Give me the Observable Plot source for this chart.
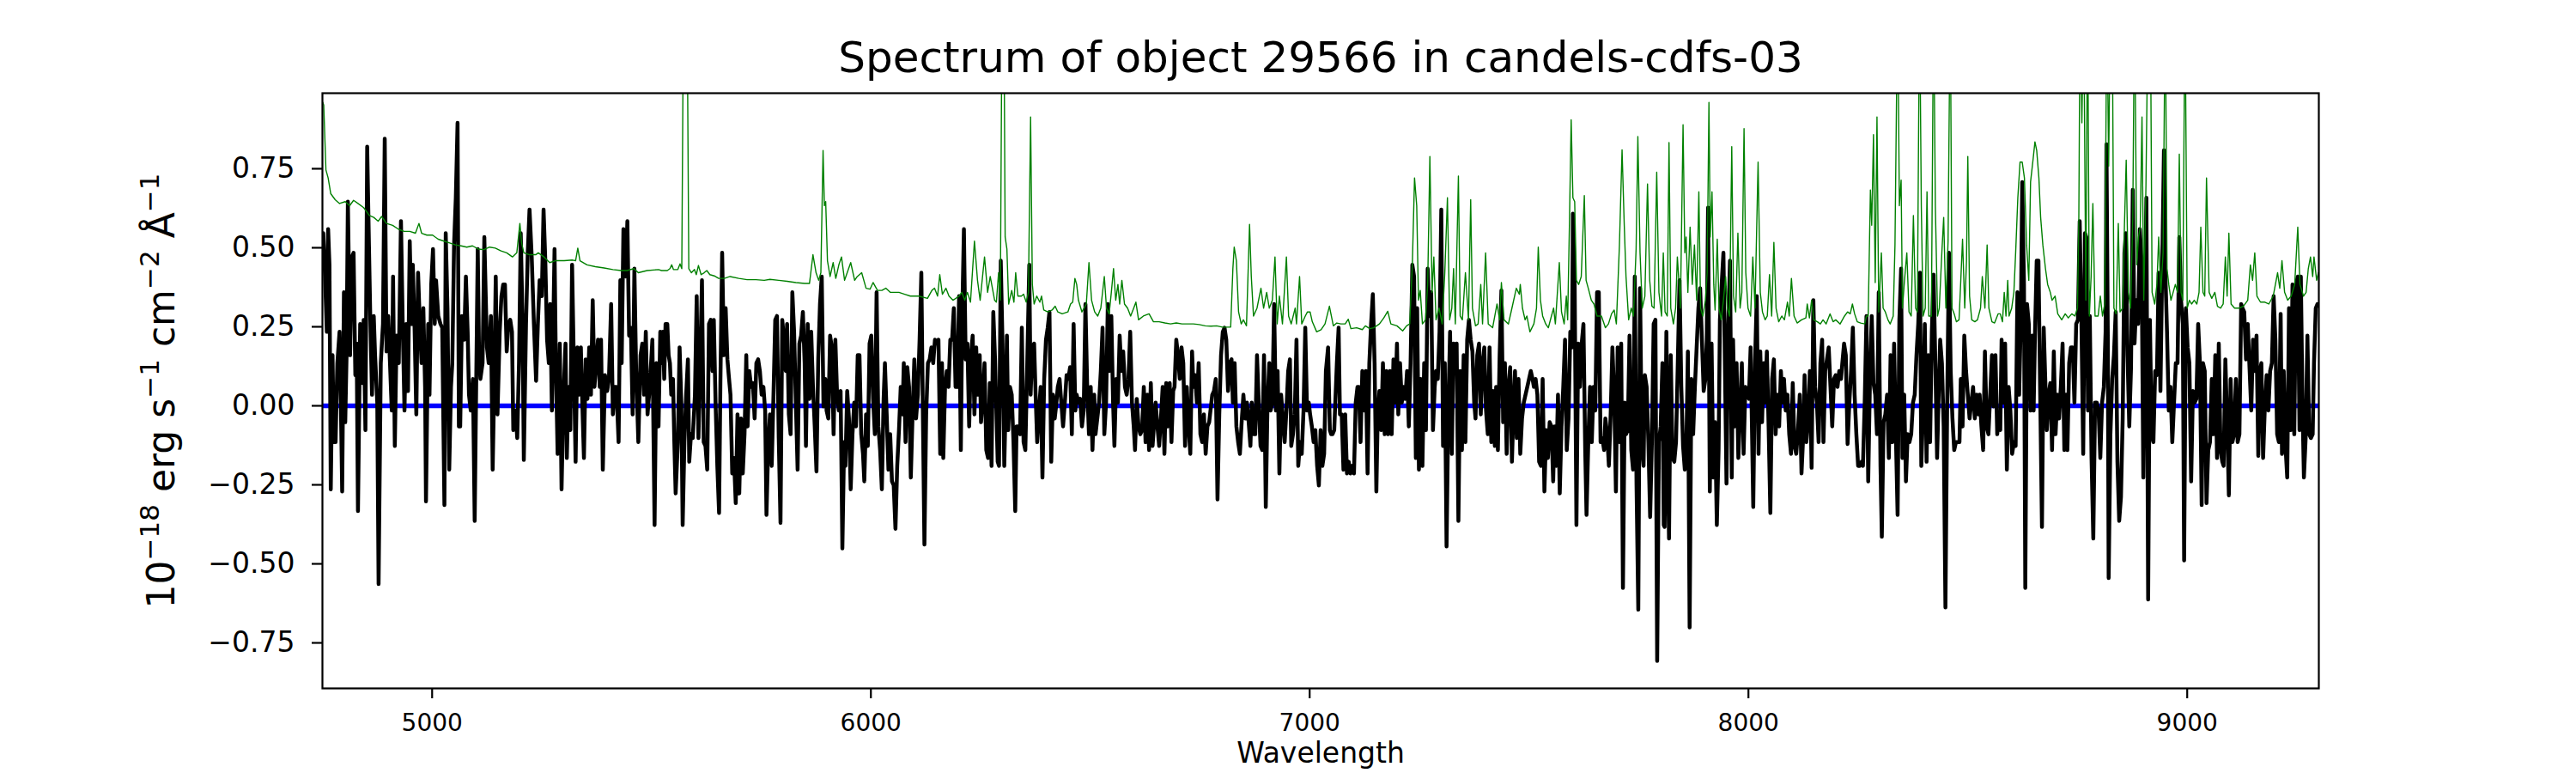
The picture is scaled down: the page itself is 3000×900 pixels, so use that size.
<!DOCTYPE html>
<html><head><meta charset="utf-8">
<script src="https://cdn.jsdelivr.net/npm/d3@7"></script>
<script src="https://cdn.jsdelivr.net/npm/@observablehq/plot@0.6"></script>
<style>body{margin:0;background:#fff;} svg{font-family:"DejaVu Sans";}</style>
</head><body><div id="chart"></div>
<script>
const titleText = "Spectrum of object 29566 in candels-cdfs-03";
const xLabel = "Wavelength";
const yLabel = "10−18 erg s−1 cm−2 Å−1";
// pieces of the y label: [text, isSuperscript]
const yLabelParts = [["10", false], ["−18", true], [" erg s", false], ["−1", true], [" cm", false], ["−2", true], [" Å", false], ["−1", true]];
const xTicks = [5000, 6000, 7000, 8000, 9000];
const yTicks = [-0.75, -0.5, -0.25, 0, 0.25, 0.5, 0.75];
const xDomain = [4750, 9300];
const yDomain = [-0.894, 0.989];

// [wavelength, flux] of the measured spectrum (black)
const blackSpectrum = [
[4752,.546],[4756,.409],[4760,.234],[4763,.559],[4766,.446],[4769,-.264],[4773,.160],[4776,-.115],[4780,-.115],[4784,.135],[4789,.234],[4792,.010],[4795,-.271],[4799,.359],[4802,-.052],[4805,.160],[4808,.646],[4813,.160],[4817,.471],[4821,.484],[4825,.097],[4828,.197],[4831,-.333],[4836,.259],[4841,.072],[4844,.272],[4848,-.077],[4852,.820],[4856,.509],[4859,.284],[4863,.035],[4867,.284],[4870,.160],[4875,.010],[4878,-.564],[4883,.135],[4888,.259],[4892,.845],[4896,.172],[4900,.284],[4904,.135],[4908,-.015],[4911,.409],[4915,-.127],[4919,.222],[4924,.135],[4929,.584],[4933,.259],[4937,-.015],[4941,.259],[4945,.047],[4949,.521],[4953,.259],[4956,.446],[4960,.247],[4964,-.027],[4968,.421],[4972,.259],[4976,.135],[4980,.309],[4984,.060],[4986,-.302],[4991,.259],[4994,.035],[4998,.384],[5002,.496],[5006,.259],[5009,.397],[5014,.284],[5019,.259],[5023,.247],[5028,-.314],[5031,.546],[5035,.309],[5039,-.202],[5043,.060],[5046,.135],[5050,.509],[5054,.658],[5058,.895],[5061,-.065],[5064,-.065],[5068,.284],[5073,.209],[5077,.409],[5081,.234],[5084,.035],[5088,-.015],[5093,.085],[5097,-.364],[5101,.135],[5104,.496],[5107,.160],[5110,.085],[5115,.135],[5119,.534],[5125,.185],[5129,.135],[5134,.284],[5138,-.202],[5142,.110],[5145,.409],[5149,-.027],[5154,.234],[5158,.347],[5162,.384],[5166,.384],[5170,.172],[5174,.259],[5178,.272],[5182,.234],[5185,-.077],[5190,-.015],[5194,-.102],[5198,.135],[5202,.546],[5206,.272],[5209,-.171],[5214,.259],[5218,.484],[5222,.621],[5227,.471],[5232,.259],[5237,.079],[5241,.259],[5245,.397],[5250,.347],[5254,.621],[5258,.459],[5262,.209],[5266,.135],[5269,.322],[5273,-.015],[5279,.496],[5282,.135],[5286,-.152],[5291,.197],[5295,-.264],[5299,.010],[5304,.197],[5307,-.165],[5311,.060],[5315,-.077],[5319,.446],[5323,.135],[5327,-.177],[5331,.185],[5335,.035],[5339,.185],[5342,.022],[5346,-.165],[5350,.147],[5354,.022],[5358,.185],[5362,.035],[5366,.334],[5370,.060],[5374,.135],[5378,.209],[5382,.060],[5385,.209],[5389,-.202],[5394,.097],[5399,.047],[5403,.085],[5408,.322],[5412,-.027],[5416,.060],[5420,.060],[5425,-.115],[5429,.397],[5432,.135],[5436,.559],[5441,.409],[5445,.584],[5449,.222],[5453,.247],[5457,-.027],[5461,.434],[5465,.110],[5470,-.115],[5475,.160],[5479,.197],[5483,.035],[5487,.234],[5491,-.027],[5496,.060],[5502,.209],[5507,-.377],[5511,.135],[5516,-.065],[5520,.234],
[5523,.135],[5526,.234],[5529,.085],[5532,.259],[5536,.259],[5539,.160],[5542,.135],[5545,.035],[5549,.085],[5552,-.115],[5555,-.277],[5560,-.115],[5564,.185],[5568,.010],[5571,-.377],[5575,-.115],[5579,.035],[5583,.147],[5586,-.177],[5590,-.090],[5594,-.102],[5599,.035],[5603,.347],[5607,-.102],[5611,.135],[5615,.397],[5619,-.115],[5623,-.127],[5627,-.202],[5631,.259],[5635,.272],[5639,.110],[5642,.272],[5646,.010],[5650,-.190],[5654,-.339],[5657,.072],[5661,.484],[5665,.160],[5669,.309],[5673,.147],[5676,.097],[5680,.035],[5684,-.214],[5688,-.165],[5692,-.308],[5696,-.027],[5700,-.277],[5704,-.040],[5708,-.214],[5712,-.090],[5716,.160],[5719,-.065],[5723,.110],[5727,.060],[5731,.072],[5735,-.040],[5739,.135],[5743,.147],[5747,.110],[5751,.035],[5755,.060],[5759,-.015],[5762,-.345],[5766,-.127],[5770,-.027],[5774,-.190],[5778,.035],[5782,.272],[5786,.284],[5790,-.102],[5794,-.370],[5798,.272],[5802,.209],[5806,.110],[5809,.259],[5813,-.027],[5817,-.090],[5821,.359],[5825,.234],[5829,.010],[5833,-.202],[5837,.197],[5841,.222],[5845,.297],[5849,.135],[5852,-.127],[5856,.259],[5860,.022],[5864,.234],[5868,.060],[5872,-.065],[5876,-.208],[5880,.147],[5884,.322],[5888,.409],[5892,-.002],[5896,.085],[5899,-.015],[5903,-.040],[5907,.222],[5911,.185],[5915,-.090],[5919,.209],[5923,.035],[5927,-.015],[5931,.047],[5935,-.451],[5939,-.115],[5942,-.190],[5946,.047],[5950,-.040],[5954,-.264],[5958,-.090],[5962,.010],[5966,-.065],[5970,.160],[5974,.160],[5978,-.090],[5982,-.152],[5985,-.239],[5989,-.027],[5993,-.127],[5997,.197],[6001,.222],[6005,.022],[6009,-.090],[6013,.359],[6017,-.065],[6021,-.140],[6025,-.264],[6029,.022],[6032,.135],[6036,-.027],[6040,-.202],[6044,-.090],[6048,-.239],[6052,-.252],[6056,-.389],[6060,-.190],[6064,-.077],[6068,.060],[6072,-.027],[6075,.135],[6079,-.115],[6083,.122],[6087,.060],[6091,-.227],[6095,-.027],[6099,.147],[6103,-.040],[6107,.035],[6111,.209],[6115,.421],[6118,.035],[6122,-.439],[6126,-.027],[6130,.135],[6134,.147],[6138,.185],[6142,.135],[6146,.209],[6150,.197],[6154,.209],[6158,-.152],[6162,.135],[6165,-.165],[6169,.060],[6173,.110],[6177,.060],[6181,.209],[6185,.209],[6189,.309],[6193,.060],[6197,.060],[6201,.347],[6205,-.140],[6208,.272],[6212,.559],[6216,.147],[6220,.197],[6224,-.065],[6228,.160],[6232,.222],[6236,-.027],[6240,.185],[6244,.035],[6248,.160],[6251,-.052],[6255,.022],[6259,.135],[6263,-.140],[6267,-.165],[6271,.072],[6275,-.190],[6279,.297],[6283,.147],
[6289,-.177],[6292,-.190],[6296,.459],[6300,.197],[6304,-.190],[6308,.060],[6310,.222],[6313,-.077],[6317,.060],[6321,.035],[6325,-.115],[6329,-.333],[6332,-.065],[6336,-.065],[6340,-.090],[6344,.247],[6348,-.115],[6352,-.140],[6356,.110],[6361,.446],[6364,.035],[6368,.185],[6372,.197],[6376,.010],[6379,-.115],[6383,-.015],[6387,.060],[6391,-.227],[6395,.085],[6399,.209],[6403,.247],[6407,.297],[6411,-.177],[6415,.035],[6419,-.040],[6422,-.002],[6426,.060],[6430,.085],[6434,.010],[6438,-.065],[6442,.010],[6446,.097],[6450,.085],[6454,.122],[6458,-.090],[6462,.259],[6466,-.015],[6469,.035],[6473,.010],[6477,.022],[6481,-.065],[6485,-.015],[6489,.322],[6493,.060],[6497,-.090],[6501,.060],[6505,-.140],[6509,.035],[6512,-.090],[6516,-.040],[6520,.010],[6524,.110],[6528,.247],[6532,-.090],[6536,.010],[6540,.322],[6544,.110],[6548,.284],[6552,.010],[6555,-.127],[6559,.085],[6563,.010],[6567,.222],[6571,.110],[6575,.172],[6579,.060],[6583,.035],[6587,.085],[6591,.234],[6595,.010],[6599,-.065],[6602,-.140],[6606,.022],[6610,-.065],[6614,-.090],[6618,-.077],[6622,.060],[6626,-.115],[6630,.035],[6634,-.140],[6638,.072],[6642,-.127],[6645,-.065],[6649,.010],[6653,-.065],[6657,-.127],[6661,-.040],[6665,.060],[6669,-.152],[6673,.072],[6677,-.065],[6681,.072],[6685,-.115],[6689,.047],[6692,.060],[6696,.209],[6700,.160],[6704,.085],[6708,.185],[6712,.135],[6716,-.127],[6720,.060],[6724,-.065],[6728,-.152],[6732,.172],[6735,.060],[6739,.097],[6743,.010],[6747,.135],[6751,-.090],[6755,-.115],[6759,-.027],[6763,-.152],[6767,-.065],[6771,-.052],[6775,-.002],[6778,.035],[6782,.047],[6786,.085],[6790,-.296],[6794,-.027],[6798,.160],[6802,.234],[6806,.247],[6810,.209],[6814,.047],[6818,.135],[6822,.147],[6825,.010],[6829,.135],[6833,-.065],[6837,-.115],[6841,-.152],[6845,-.052],[6849,.035],[6853,-.040],[6857,.010],[6861,-.052],[6865,-.127],[6868,.010],[6872,-.090],[6876,-.090],[6880,.160],[6884,.010],[6888,-.127],[6892,-.140],[6896,.160],[6900,-.320],[6904,.010],[6908,.135],[6911,-.015],[6915,.010],[6919,.322],[6923,-.015],[6927,.110],[6931,-.214],[6935,.035],[6939,-.040],[6943,-.115],[6947,-.015],[6951,.110],[6955,.147],[6958,-.127],[6962,-.090],[6966,-.027],[6970,.209],[6974,-.190],[6978,-.115],[6982,-.152],[6986,-.015],[6990,.247],[6994,-.015],[6998,.010],[7001,-.027],[7005,-.065],[7009,-.115],[7013,-.077],[7017,-.190],[7021,-.252],[7025,-.077],[7029,-.190],[7033,-.152],[7037,.110],[7042,.185],[7046,-.077],
[7049,-.090],[7052,-.090],[7056,-.077],[7062,.135],[7066,.247],[7069,-.027],[7073,-.027],[7077,-.202],[7081,-.027],[7085,-.214],[7089,-.177],[7093,-.214],[7097,-.190],[7101,-.214],[7105,.010],[7109,.060],[7112,.060],[7116,-.115],[7120,.110],[7124,-.015],[7128,.110],[7132,-.214],[7136,.135],[7140,.259],[7144,.353],[7148,.135],[7152,-.271],[7155,-.040],[7159,.047],[7163,-.077],[7167,.135],[7171,-.090],[7175,.110],[7179,-.090],[7183,.110],[7187,-.090],[7191,.147],[7195,.010],[7199,.197],[7202,-.027],[7206,.135],[7210,.010],[7214,.060],[7218,.022],[7222,.110],[7226,-.065],[7230,.135],[7234,.446],[7238,.409],[7242,-.165],[7245,.309],[7249,-.202],[7253,.085],[7257,-.190],[7261,.135],[7265,-.077],[7269,.434],[7273,.284],[7277,.359],[7281,-.077],[7285,.060],[7288,.110],[7292,.085],[7296,.234],[7300,.621],[7304,-.127],[7308,.135],[7312,-.445],[7316,-.015],[7320,.234],[7324,-.152],[7328,.197],[7332,.110],[7335,.197],[7339,-.364],[7343,.110],[7347,-.140],[7351,.160],[7355,-.115],[7359,.209],[7363,.272],[7367,.209],[7371,.172],[7375,.010],[7378,-.040],[7382,.160],[7386,.197],[7390,-.027],[7394,.135],[7398,.185],[7402,-.015],[7406,-.090],[7410,.185],[7414,-.115],[7418,.047],[7422,-.127],[7425,.060],[7429,-.140],[7433,.160],[7437,.365],[7441,-.052],[7445,.135],[7449,-.152],[7453,.060],[7457,.122],[7461,-.177],[7465,.010],[7468,.110],[7472,-.102],[7476,.085],[7480,-.152],[7484,-.040],[7488,.010],[7492,.035],[7496,.060],[7500,.085],[7504,.110],[7508,.085],[7511,.060],[7515,.085],[7519,.035],[7523,-.177],[7527,-.190],[7531,.085],[7535,-.271],[7539,-.077],[7543,-.165],[7547,-.052],[7551,-.065],[7555,-.239],[7558,-.065],[7562,-.190],[7566,.035],[7570,-.277],[7574,-.065],[7578,.060],[7582,.209],[7586,-.140],[7590,-.040],[7594,.234],[7598,.185],[7600,.608],[7604,.384],[7608,-.377],[7612,.197],[7616,.060],[7620,.197],[7624,.259],[7628,-.140],[7631,-.345],[7635,-.115],[7639,.060],[7643,-.115],[7647,.060],[7651,-.015],[7655,.359],[7659,.359],[7663,-.115],[7667,-.102],[7671,-.140],[7674,-.040],[7678,-.090],[7682,-.190],[7686,-.027],[7690,.185],[7694,.035],[7698,-.271],[7702,.185],[7706,-.115],[7710,.197],[7714,-.576],[7718,.010],[7721,-.090],[7725,-.077],[7729,.222],[7733,-.140],[7737,-.202],[7741,.409],[7745,-.252],[7749,-.645],[7753,.372],[7757,-.127],[7761,-.190],[7764,.097],[7768,.060],[7772,-.115],[7776,-.352],[7780,-.115],[7784,.259],[7788,.272],[7792,-.807],[7796,-.115],[7800,-.065],[7804,.135],[7807,-.377],
[7809,-.383],[7813,.234],[7817,-.239],[7819,-.420],[7823,.160],[7827,-.165],[7831,-.177],[7835,-.115],[7839,.135],[7843,.397],[7847,.060],[7851,-.127],[7855,-.202],[7859,-.090],[7862,.172],[7866,-.701],[7870,.085],[7874,-.090],[7878,.060],[7882,.185],[7886,.309],[7890,.372],[7894,.209],[7898,.047],[7902,.085],[7905,.209],[7908,.627],[7912,-.271],[7916,.197],[7920,-.227],[7924,-.052],[7928,-.377],[7932,-.140],[7935,.272],[7939,.384],[7943,.484],[7947,.072],[7950,-.246],[7954,.259],[7958,.459],[7962,-.227],[7965,.209],[7969,-.065],[7973,.135],[7977,-.165],[7981,-.015],[7985,.135],[7989,-.152],[7993,.060],[7997,.047],[8001,.022],[8005,.185],[8008,-.065],[8011,-.320],[8015,.135],[8019,.347],[8023,-.152],[8027,.172],[8031,-.052],[8035,.135],[8038,.010],[8042,.172],[8046,-.065],[8050,-.339],[8054,.085],[8058,.147],[8062,-.090],[8066,.035],[8070,-.065],[8074,.110],[8078,.010],[8081,.085],[8085,-.015],[8089,.035],[8093,-.090],[8097,-.152],[8101,.072],[8105,-.127],[8109,-.152],[8113,-.077],[8117,.035],[8121,-.214],[8125,-.090],[8128,.097],[8132,-.115],[8136,-.040],[8140,.110],[8144,-.196],[8148,.334],[8152,.060],[8156,.010],[8160,-.115],[8164,.135],[8168,.209],[8171,-.115],[8175,.110],[8179,.147],[8183,.185],[8187,.060],[8191,-.065],[8195,.085],[8199,.097],[8203,.060],[8207,.110],[8211,.085],[8214,.135],[8218,.197],[8222,.160],[8226,-.121],[8230,.010],[8234,.110],[8238,.247],[8242,.035],[8246,-.090],[8250,-.190],[8254,-.190],[8258,-.177],[8261,-.190],[8265,.010],[8269,.284],[8273,-.239],[8277,.085],[8281,.284],[8285,.072],[8289,.035],[8293,-.090],[8297,.359],[8301,-.190],[8304,-.414],[8308,-.052],[8312,-.027],[8316,.035],[8320,-.165],[8324,.160],[8328,-.115],[8332,.197],[8336,-.090],[8340,-.345],[8344,.272],[8348,.434],[8351,-.165],[8355,.035],[8359,-.239],[8363,-.090],[8367,-.115],[8371,-.090],[8375,.010],[8379,.035],[8383,.160],[8387,.259],[8391,.421],[8394,-.190],[8398,-.015],[8402,.259],[8406,-.177],[8410,.160],[8414,-.115],[8418,.234],[8422,.415],[8426,.135],[8430,-.165],[8434,.060],[8437,.209],[8441,.135],[8445,-.065],[8449,-.638],[8453,.010],[8457,.484],[8461,.110],[8465,-.040],[8469,-.140],[8473,-.115],[8477,-.115],[8481,-.115],[8484,.085],[8488,-.065],[8492,.222],[8496,.110],[8500,.035],[8504,-.040],[8508,.010],[8512,.060],[8516,-.040],[8520,.035],[8524,-.027],[8527,.035],[8531,-.065],[8535,-.140],[8539,.172],[8543,-.065],[8547,-.090],[8551,.035],[8555,.160],[8559,-.002],[8563,.160],[8567,-.090],[8572,-.027],
[8574,-.077],[8577,.209],[8581,.010],[8585,.197],[8589,-.202],[8593,.060],[8597,-.015],[8601,-.152],[8605,-.115],[8609,-.127],[8613,.359],[8617,.035],[8621,.284],[8624,.708],[8628,.384],[8631,-.576],[8635,.322],[8639,.259],[8643,-.015],[8647,.222],[8650,-.015],[8653,.222],[8657,.459],[8661,.459],[8665,.035],[8669,-.383],[8673,.247],[8677,.060],[8680,-.077],[8684,.035],[8688,.072],[8692,-.140],[8696,.172],[8700,-.090],[8704,.035],[8708,-.040],[8712,.060],[8716,.197],[8720,-.140],[8724,.035],[8727,-.140],[8731,.135],[8735,.185],[8739,.185],[8743,.010],[8747,.259],[8751,.272],[8755,.584],[8759,.259],[8763,-.152],[8767,.546],[8770,.534],[8774,-.015],[8778,.284],[8782,-.165],[8786,-.420],[8790,.010],[8794,.010],[8798,-.015],[8802,-.165],[8806,.010],[8810,.060],[8814,.234],[8816,.827],[8819,.234],[8821,-.545],[8825,-.090],[8829,.085],[8833,.160],[8837,.297],[8841,-.177],[8845,-.364],[8849,-.289],[8853,-.040],[8857,.484],[8860,.546],[8864,.160],[8868,-.065],[8872,.122],[8876,.683],[8880,.197],[8884,.334],[8888,.259],[8892,.559],[8896,.459],[8900,-.227],[8903,.209],[8907,.658],[8911,-.613],[8915,.272],[8919,-.090],[8923,-.115],[8927,.110],[8931,.097],[8935,.421],[8939,.047],[8943,.434],[8947,.808],[8950,.434],[8954,.234],[8958,-.015],[8962,.060],[8966,-.115],[8970,.010],[8974,.135],[8978,.135],[8982,.534],[8986,.334],[8990,.259],[8993,-.489],[8997,.309],[9001,.185],[9005,.135],[9009,-.239],[9013,.047],[9017,.010],[9021,.022],[9025,.259],[9029,.135],[9033,-.314],[9036,.135],[9040,.110],[9044,-.308],[9048,-.140],[9052,-.115],[9056,.085],[9060,-.090],[9064,.160],[9068,-.165],[9072,.197],[9076,-.140],[9080,-.177],[9083,-.190],[9087,.147],[9091,-.052],[9095,-.283],[9099,.085],[9103,-.115],[9107,-.090],[9111,.085],[9115,-.115],[9119,-.090],[9123,.322],[9126,.309],[9130,.297],[9134,.147],[9138,.259],[9142,.122],[9146,-.015],[9150,.209],[9154,.110],[9158,.222],[9162,-.158],[9166,.110],[9169,.135],[9173,-.165],[9177,-.002],[9181,.097],[9185,-.015],[9189,.110],[9193,.135],[9197,.347],[9201,.209],[9205,-.090],[9209,-.115],[9213,.291],[9216,-.152],[9220,.110],[9224,-.127],[9228,-.227],[9232,.309],[9236,-.077],[9240,.384],[9244,-.090],[9248,.384],[9252,.409],[9256,-.077],[9259,.409],[9263,-.015],[9266,-.227],[9270,-.102],[9274,.222],[9278,-.090],[9282,-.102],[9286,-.090],[9289,.135],[9293,.309],[9297,.322]
];

// [wavelength, noise] (green); values above the frame are clipped
const greenSpectrum = [
[4751,.960],[4753,.951],[4758,.746],[4763,.721],[4769,.671],[4779,.652],[4789,.640],[4802,.646],[4812,.633],[4821,.650],[4831,.640],[4844,.627],[4857,.602],[4867,.596],[4877,.584],[4885,.599],[4896,.577],[4910,.571],[4923,.559],[4936,.552],[4949,.552],[4962,.546],[4970,.577],[4976,.546],[4988,.540],[5001,.540],[5014,.527],[5027,.521],[5040,.515],[5053,.509],[5066,.506],[5079,.502],[5092,.506],[5105,.496],[5118,.494],[5131,.502],[5144,.499],[5157,.490],[5170,.484],[5183,.471],[5193,.484],[5200,.577],[5204,.515],[5209,.484],[5222,.478],[5236,.478],[5242,.484],[5255,.471],[5268,.453],[5281,.459],[5301,.459],[5320,.461],[5327,.459],[5332,.499],[5337,.459],[5353,.446],[5372,.440],[5392,.436],[5412,.431],[5431,.428],[5444,.428],[5460,.434],[5470,.421],[5490,.428],[5516,.431],
[5523,.428],[5536,.428],[5542,.434],[5546,.446],[5550,.431],[5560,.431],[5565,.449],[5569,.434],[5573,1.3],[5578,1.3],[5581,1.3],[5585,.434],[5591,.421],[5598,.431],[5602,.415],[5607,.444],[5613,.415],[5620,.421],[5626,.428],[5633,.415],[5643,.411],[5653,.403],[5666,.403],[5679,.409],[5699,.403],[5718,.399],[5738,.399],[5757,.397],[5770,.400],[5790,.397],[5809,.394],[5829,.390],[5849,.387],[5860,.387],[5868,.478],[5875,.421],[5881,.397],[5886,.421],[5891,.808],[5894,.633],[5897,.646],[5901,.459],[5907,.409],[5914,.453],[5920,.403],[5927,.446],[5933,.471],[5940,.397],[5946,.421],[5954,.453],[5963,.397],[5969,.409],[5979,.421],[5989,.372],[5998,.369],[6005,.390],[6015,.365],[6025,.365],[6034,.372],[6044,.359],[6064,.359],[6077,.353],[6090,.347],[6109,.347],[6129,.340],[6139,.365],[6145,.372],[6152,.347],[6157,.415],[6163,.353],[6171,.372],[6178,.347],[6187,.334],[6201,.347],[6207,.359],[6214,.334],[6220,.359],[6227,.328],[6236,.521],[6243,.397],[6249,.334],[6259,.471],[6266,.359],[6272,.409],[6282,.334],
[6286,.328],[6291,.421],[6295,.334],[6299,1.3],[6303,1.3],[6306,.534],[6310,.496],[6314,.322],[6321,.365],[6326,.328],[6330,.421],[6335,.347],[6343,.347],[6348,.353],[6354,.328],[6359,.359],[6364,.914],[6368,.384],[6372,.322],[6378,.347],[6385,.328],[6389,.347],[6394,.303],[6403,.297],[6413,.303],[6420,.315],[6426,.297],[6436,.291],[6449,.297],[6455,.322],[6460,.328],[6465,.403],[6469,.384],[6473,.334],[6481,.297],[6491,.322],[6497,.453],[6503,.334],[6510,.297],[6517,.284],[6524,.309],[6532,.409],[6537,.309],[6543,.291],[6548,.359],[6553,.434],[6558,.334],[6563,.384],[6567,.322],[6572,.397],[6578,.322],[6585,.309],[6592,.284],[6599,.309],[6604,.328],[6610,.272],[6621,.284],[6634,.291],[6644,.266],[6657,.266],[6670,.262],[6683,.259],[6696,.262],[6709,.259],[6722,.259],[6735,.259],[6748,.257],[6762,.253],[6775,.252],[6788,.253],[6801,.249],[6820,.249],[6825,.434],[6828,.502],[6833,.459],[6838,.297],[6844,.259],[6849,.272],[6856,.253],[6863,.574],[6867,.409],[6872,.284],[6880,.309],[6889,.372],[6895,.309],[6902,.359],[6908,.309],[6915,.334],[6921,.471],[6926,.259],[6931,.347],[6938,.259],[6947,.471],[6952,.284],[6958,.259],[6967,.309],[6970,.259],[6977,.409],[6982,.259],[6990,.284],[6995,.297],[7001,.297],[7006,.266],[7016,.234],[7026,.241],[7035,.259],[7045,.315],
[7054,.253],[7062,.262],[7071,.259],[7081,.259],[7088,.274],[7094,.244],[7107,.247],[7120,.241],[7127,.253],[7137,.244],[7146,.247],[7159,.259],[7169,.278],[7178,.299],[7185,.259],[7199,.253],[7212,.237],[7221,.253],[7228,.259],[7234,.446],[7239,.721],[7244,.633],[7248,.334],[7252,.365],[7257,.259],[7264,.272],[7269,.384],[7274,.789],[7279,.359],[7283,.471],[7288,.272],[7295,.309],[7302,.259],[7308,.421],[7314,.658],[7319,.272],[7324,.309],[7328,.434],[7332,.259],[7339,.727],[7343,.284],[7348,.272],[7355,.421],[7362,.272],[7367,.652],[7371,.309],[7378,.253],[7384,.259],[7390,.384],[7394,.259],[7401,.484],[7407,.259],[7417,.247],[7427,.322],[7433,.272],[7437,.390],[7443,.272],[7453,.259],[7461,.309],[7471,.372],[7478,.353],[7480,.384],[7485,.309],[7491,.272],[7495,.284],[7502,.234],[7511,.259],[7517,.309],[7521,.502],[7526,.334],[7531,.284],[7538,.259],[7544,.247],[7551,.284],[7556,.309],[7560,.259],[7569,.453],[7574,.297],[7580,.259],[7585,.347],[7588,.272],[7592,.571],[7596,.905],[7600,.658],[7604,.646],[7608,.397],[7613,.384],[7619,.409],[7626,.665],[7630,.397],[7635,.372],[7642,.334],[7648,.322],[7655,.284],[7665,.284],[7674,.247],[7681,.259],[7688,.291],[7694,.303],[7699,.259],[7706,.509],[7712,.810],[7717,.571],[7721,.409],[7727,.272],[7733,.309],[7738,.284],[7744,.496],[7748,.852],[7753,.484],[7758,.309],[7764,.347],[7770,.702],[7775,.397],[7780,.315],[7785,.309],[7791,.739],[7796,.359],[7802,.284],[7806,.484],
[7810,.297],[7815,.284],[7819,.833],[7823,.309],[7829,.259],[7834,.309],[7838,.471],[7842,.384],[7845,.309],[7851,.889],[7855,.484],[7858,.534],[7862,.359],[7867,.565],[7872,.384],[7877,.509],[7882,.334],[7887,.677],[7891,.309],[7896,.284],[7902,.334],[7906,.421],[7910,.960],[7913,.534],[7917,.677],[7921,.384],[7924,.303],[7929,.527],[7933,.309],[7938,.272],[7943,.334],[7948,.409],[7952,.309],[7957,.284],[7962,.820],[7966,.347],[7971,.297],[7976,.546],[7981,.309],[7985,.359],[7990,.877],[7994,.421],[7999,.309],[8005,.284],[8010,.471],[8015,.309],[8022,.771],[8027,.359],[8032,.297],[8038,.272],[8043,.284],[8048,.415],[8053,.284],[8058,.517],[8063,.309],[8069,.266],[8076,.284],[8082,.272],[8089,.328],[8093,.284],[8098,.403],[8104,.284],[8111,.262],[8121,.272],[8131,.278],[8134,.322],[8139,.278],[8144,.334],[8149,.272],[8157,.266],[8164,.259],[8170,.272],[8177,.259],[8186,.291],[8193,.266],[8199,.272],[8209,.259],[8219,.284],[8226,.297],[8232,.291],[8237,.322],[8242,.291],[8248,.266],[8256,.262],[8265,.259],[8269,.284],[8273,.284],[8278,.683],[8281,.571],[8285,.858],[8289,.390],[8293,.914],[8297,.297],[8303,.484],[8307,.309],[8312,.297],[8318,.272],[8323,.259],[8330,.284],[8334,.509],[8340,1.3],[8344,.633],[8348,.714],[8351,.309],[8355,.384],[8361,.484],[8366,.297],[8371,.284],[8376,.602],[8381,.309],[8385,.297],[8390,1.3],[8394,.633],[8398,.284],[8403,.309],[8407,.677],[8411,.284],[8417,.284],[8422,1.3],[8426,.633],[8431,.284],[8435,.309],[8441,.490],[8445,.596],[8450,.309],[8455,.521],[8460,1.3],[8464,.309],[8469,.291],[8474,.266],[8480,.272],[8484,.397],[8488,.527],[8493,.309],[8497,.459],[8500,.789],[8504,.347],[8509,.272],[8516,.266],[8522,.272],[8529,.309],[8533,.409],[8539,.309],[8544,.509],[8548,.309],[8555,.266],[8561,.262],[8569,.291],
[8574,.291],[8579,.266],[8583,.359],[8587,.284],[8591,.397],[8594,.284],[8600,.309],[8605,.359],[8609,.484],[8614,.658],[8619,.771],[8624,.771],[8629,.721],[8634,.509],[8639,.397],[8643,.708],[8649,.783],[8653,.835],[8657,.808],[8662,.721],[8666,.596],[8671,.509],[8677,.434],[8682,.384],[8688,.359],[8692,.334],[8699,.347],[8705,.291],[8714,.272],[8722,.291],[8729,.278],[8737,.291],[8744,.284],[8750,.309],[8753,.596],[8756,1.3],[8760,.895],[8764,1.3],[8769,.334],[8773,1.3],[8777,.284],[8781,.409],[8785,.640],[8790,.284],[8797,.284],[8802,.347],[8807,.284],[8812,.322],[8817,1.3],[8821,.758],[8825,1.3],[8829,1.3],[8833,.309],[8838,.291],[8843,.577],[8847,.297],[8853,.309],[8857,.571],[8861,.777],[8866,.359],[8871,.309],[8876,.596],[8880,1.3],[8885,.446],[8889,.534],[8893,.565],[8897,.914],[8901,.334],[8906,.696],[8911,1.3],[8916,1.3],[8920,.359],[8926,.322],[8931,.384],[8935,.534],[8940,.359],[8945,.484],[8950,1.3],[8954,.434],[8958,.384],[8963,.334],[8968,.359],[8973,.384],[8978,.359],[8982,.796],[8986,.359],[8990,.334],[8995,1.3],[9000,.309],[9005,.334],[9010,.322],[9016,.334],[9022,.322],[9027,.359],[9031,.565],[9036,.359],[9040,.347],[9044,.721],[9050,.359],[9056,.340],[9063,.359],[9069,.315],[9076,.309],[9082,.322],[9087,.471],[9091,.347],[9095,.546],[9100,.322],[9108,.309],[9118,.309],[9128,.315],[9138,.334],[9144,.446],[9149,.397],[9154,.484],[9159,.347],[9167,.328],[9177,.328],[9186,.322],[9196,.347],[9206,.421],[9211,.372],[9216,.459],[9222,.359],[9229,.334],[9237,.347],[9245,.384],[9252,.565],[9257,.384],[9265,.347],[9271,.359],[9276,.434],[9281,.471],[9286,.409],[9289,.471],[9295,.397],[9299,.421]
];

// [wavelength, model] (blue)
const blueSpectrum = [[4750, 0], [9300, 0]];

const fmtY = d3.format(".2f");
const chart = Plot.plot({
  width: 3000,
  height: 900,
  marginLeft: 375,
  marginRight: 300,
  marginTop: 108,
  marginBottom: 99,
  style: {fontFamily: "DejaVu Sans", background: "white", color: "black", overflow: "visible"},
  x: {domain: xDomain, label: null},
  y: {domain: yDomain, label: null},
  marks: [
    Plot.line(blueSpectrum, {x: d => d[0], y: d => d[1], stroke: "#0000ff", strokeWidth: 5.5, clip: true}),
    Plot.line(blackSpectrum, {x: d => d[0], y: d => d[1], stroke: "#000000", strokeWidth: 4.5, clip: true}),
    Plot.line(greenSpectrum, {x: d => d[0], y: d => d[1], stroke: "#008000", strokeWidth: 1.4, clip: true}),
    Plot.frame({stroke: "black", strokeWidth: 2.2}),
    Plot.axisX({ticks: xTicks, tickFormat: d => String(d), tickSize: 12, tickPadding: 18, fontSize: 28, strokeWidth: 2.2, label: null}),
    Plot.axisY({ticks: yTicks, tickFormat: fmtY, tickSize: 12, tickPadding: 20, fontSize: 33, strokeWidth: 2.2, label: null}),
    Plot.text([titleText], {text: d => d, frameAnchor: "top", dy: -25, lineAnchor: "bottom", fontSize: 50, fill: "black"}),
    Plot.text([xLabel], {text: d => d, frameAnchor: "bottom", dy: 86, lineAnchor: "bottom", fontSize: 33, fill: "black"}),
    Plot.text([yLabel], {text: d => d, frameAnchor: "left", dx: -173, rotate: -90, textAnchor: "middle", lineAnchor: "bottom", fontSize: 44, fill: "black"})
  ]
});
document.getElementById("chart").appendChild(chart);

// typeset the y label with raised exponents, like the reference
d3.select(chart).selectAll("text").filter(function () { return this.textContent === yLabel; }).each(function () {
  const t = d3.select(this);
  t.text(null);
  let raised = false;
  for (const [s, sup] of yLabelParts) {
    const ts = t.append("tspan").text(s);
    if (sup && !raised) { ts.attr("font-size", 31).attr("dy", -18); raised = true; }
    else if (sup) { ts.attr("font-size", 31); }
    else if (raised) { ts.attr("dy", 18); raised = false; }
  }
});
</script>
</body></html>
